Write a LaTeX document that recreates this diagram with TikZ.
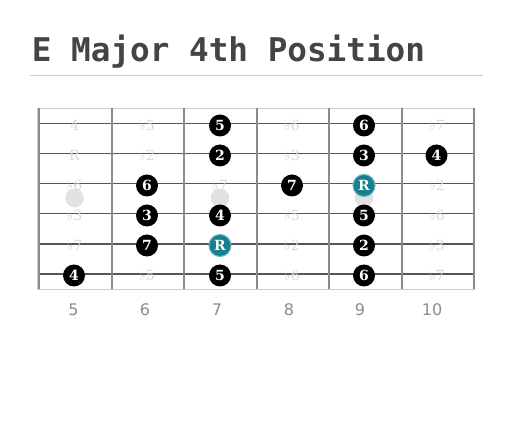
\documentclass[tikz,border=0pt]{standalone}
\usepackage{fontspec}
\setmainfont{DejaVu Serif}
\newfontfamily\titlefont{DejaVu Sans Mono}
\newfontfamily\numfont{DejaVu Sans}
\definecolor{titlegray}{HTML}{444444}
\definecolor{rulegray}{HTML}{CCCCCC}
\definecolor{stringgray}{HTML}{555555}
\definecolor{fretgray}{HTML}{8A8A8A}
\definecolor{ghostgray}{HTML}{D8D8D8}
\definecolor{markgray}{HTML}{E2E2E2}
\definecolor{rootteal}{HTML}{16808F}
\definecolor{fretnum}{HTML}{8C8C8C}
\tikzset{
  x=0.75pt, y=-0.75pt,
  note/.style={circle, fill=black, text=white, inner sep=0pt, minimum size=16.5pt, font=\bfseries\fontsize{10.5}{10.5}\selectfont},
  rootnote/.style={note, fill=rootteal, draw=rootteal!60!white, line width=0.8pt},
  ghost/.style={text=ghostgray, inner sep=0pt, font=\fontsize{10.5}{10.5}\selectfont},
  marker/.style={circle, fill=markgray, inner sep=0pt, minimum size=14pt},
  fretlabel/.style={text=fretnum, inner sep=0pt, font=\numfont\fontsize{12}{12}\selectfont},
  stringline/.style={draw=stringgray, line width=0.8pt},
  fretline/.style={draw=fretgray, line width=1.5pt},
}
\begin{document}
\begin{tikzpicture}
\useasboundingbox (0,0) rectangle (514,434);
% title
\node[anchor=base west, inner sep=0pt, text=titlegray, font=\titlefont\bfseries\fontsize{24.5}{24.5}\selectfont] (title) at (31.5,61.5) {E Major 4th Position};
\coordinate (rl) at (30,75.5);
\coordinate (rr) at (483,75.5);
\draw[rulegray, line width=1.2pt] (rl) -- (rr);
% board
\coordinate (b1) at (38,108.5);
\coordinate (b2) at (474,289.5);
\draw[rulegray, line width=0.8pt] (b1) rectangle (b2);
% markers
\node[marker] (m5) at (74.5,198) {};
\node[marker] (m7) at (220,198) {};
\node[marker] (m9) at (364,198) {};
% strings
\foreach \s/\y in {1/123.5,2/153.5,3/183.5,4/213.5,5/244,6/274}{
  \coordinate (sl\s) at (38,\y);
  \coordinate (sr\s) at (474,\y);
  \draw[stringline] (sl\s) -- (sr\s);
}
% frets
\foreach \f/\x in {0/38.5,1/111.5,2/184,3/256.5,4/329,5/401.5,6/474}{
  \coordinate (ft\f) at (\x,108.5);
  \coordinate (fb\f) at (\x,289.5);
  \draw[fretline] (ft\f) -- (fb\f);
}
% ghost labels
\node[ghost] (g11) at (74.5,125.5) {4};
\node[ghost] (g12) at (147,125.5) {♭5};
\node[ghost] (g14) at (292,125.5) {♭6};
\node[ghost] (g16) at (437,125.5) {♭7};
\node[ghost] (g21) at (74.5,155.5) {R};
\node[ghost] (g22) at (147,155.5) {♭2};
\node[ghost] (g24) at (292,155.5) {♭3};
\node[ghost] (g31) at (74.5,185.5) {♭6};
\node[ghost] (g33) at (220,185.5) {♭7};
\node[ghost] (g36) at (437,185.5) {♭2};
\node[ghost] (g41) at (74.5,215.5) {♭3};
\node[ghost] (g44) at (292,215.5) {♭5};
\node[ghost] (g46) at (437,215.5) {♭6};
\node[ghost] (g51) at (74.5,245.5) {♭7};
\node[ghost] (g54) at (292,245.5) {♭2};
\node[ghost] (g56) at (437,245.5) {♭3};
\node[ghost] (g62) at (147,275.5) {♭5};
\node[ghost] (g64) at (292,275.5) {♭6};
\node[ghost] (g66) at (437,275.5) {♭7};
% notes
\node[note] (n13) at (220,125.5) {5};
\node[note] (n15) at (364,125.5) {6};
\node[note] (n23) at (220,155.5) {2};
\node[note] (n25) at (364,155.5) {3};
\node[note] (n26) at (436.5,155.5) {4};
\node[note] (n32) at (147,185.5) {6};
\node[note] (n34) at (292,185.5) {7};
\node[rootnote] (n35) at (364,185.5) {R};
\node[note] (n42) at (147,215.5) {3};
\node[note] (n43) at (220,215.5) {4};
\node[note] (n45) at (364,215.5) {5};
\node[note] (n52) at (147,245.5) {7};
\node[rootnote] (n53) at (220,245.5) {R};
\node[note] (n55) at (364,245.5) {2};
\node[note] (n61) at (74,275.5) {4};
\node[note] (n63) at (220,275.5) {5};
\node[note] (n65) at (364,275.5) {6};
% fret numbers
\node[fretlabel] (f5) at (73.5,310) {5};
\node[fretlabel] (f6) at (145,310) {6};
\node[fretlabel] (f7) at (217,310) {7};
\node[fretlabel] (f8) at (289,310) {8};
\node[fretlabel] (f9) at (360,310) {9};
\node[fretlabel] (f10) at (432,310) {10};
\end{tikzpicture}
\end{document}
